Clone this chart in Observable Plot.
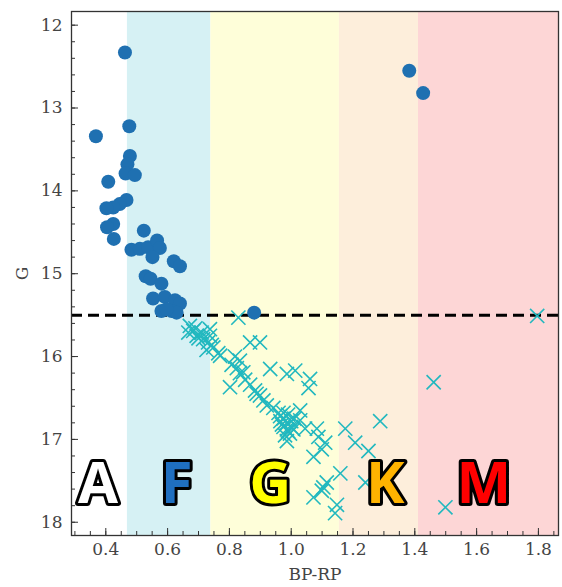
<!DOCTYPE html>
<html>
<head>
<meta charset="utf-8">
<script src="https://cdn.jsdelivr.net/npm/d3@7"></script>
<script src="https://cdn.jsdelivr.net/npm/@observablehq/plot@0.6"></script>
<style>
  html, body { margin: 0; padding: 0; background: #fff; }
  #chart svg { display: block; }
</style>
</head>
<body>
<div id="chart"></div>
<script>
// Spectral-class bands (BP-RP colour boundaries)
const bandNames  = ["F", "G", "K", "M"];
const bandStart  = [0.47, 0.74, 1.156, 1.412];
const bandEnd    = [0.74, 1.156, 1.412, 1.865];
const bandColors = ["#d6f1f4", "#fefed9", "#fdeedb", "#fdd6d6"];

// Class labels
const classNames  = ["A", "F", "G", "K", "M"];
const classX      = [0.375, 0.629, 0.932, 1.304, 1.623];
const classColors = ["#ffffff", "#1f6fc0", "#ffff00", "#ffb300", "#ff0000"];
const classG      = 17.77;

// Magnitude cut
const gCut = 15.5;

// Bright stars (circles)
const circleBPRP = [0.462, 1.382, 1.427, 0.476, 0.368, 0.478, 0.470, 0.464, 0.494, 0.408,
  0.467, 0.445, 0.424, 0.402, 0.424, 0.404, 0.426, 0.523, 0.483, 0.510,
  0.537, 0.566, 0.575, 0.551, 0.620, 0.640, 0.529, 0.545, 0.580, 0.553,
  0.591, 0.624, 0.640, 0.580, 0.613, 0.629, 0.597, 0.880];
const circleG = [12.33, 12.55, 12.82, 13.22, 13.34, 13.58, 13.68, 13.79, 13.81, 13.89,
  14.11, 14.16, 14.20, 14.21, 14.40, 14.44, 14.58, 14.48, 14.71, 14.70,
  14.68, 14.60, 14.69, 14.80, 14.85, 14.91, 15.03, 15.06, 15.12, 15.30,
  15.28, 15.32, 15.36, 15.45, 15.45, 15.47, 15.43, 15.47];

// Faint stars (crosses)
const crossBPRP = [0.829, 1.796, 0.672, 0.667, 0.683, 0.694, 0.710, 0.737, 0.715, 0.731,
  0.726, 0.748, 0.737, 0.764, 0.770, 0.743, 0.867, 0.899, 0.818, 0.834,
  0.807, 0.824, 0.845, 0.834, 0.802, 0.851, 0.867, 0.883, 0.899, 0.932,
  0.986, 1.013, 1.061, 1.056, 0.910, 0.921, 0.942, 0.959, 0.964, 0.975,
  0.986, 0.975, 0.986, 0.996, 0.980, 0.986, 0.990, 1.000, 0.970, 1.000,
  1.010, 1.029, 1.029, 1.007, 1.045, 1.083, 1.088, 1.110, 1.099, 1.072,
  1.175, 1.207, 1.250, 1.288, 1.461, 1.159, 1.115, 1.104, 1.099, 1.072,
  1.148, 1.142, 1.240, 1.499, 0.965, 0.990, 0.975, 0.690, 0.700, 0.888];
const crossG = [15.53, 15.51, 15.63, 15.71, 15.69, 15.75, 15.71, 15.67, 15.79, 15.83,
  15.92, 15.89, 15.75, 15.96, 15.99, 15.86, 15.83, 15.83, 16.00, 16.05,
  16.10, 16.14, 16.19, 16.20, 16.37, 16.28, 16.34, 16.41, 16.47, 16.15,
  16.21, 16.17, 16.27, 16.38, 16.53, 16.59, 16.62, 16.68, 16.72, 16.75,
  16.80, 16.85, 16.88, 16.93, 16.95, 17.02, 16.70, 16.78, 16.82, 16.85,
  16.75, 16.65, 16.77, 16.88, 16.87, 16.87, 16.97, 17.04, 17.12, 17.21,
  16.87, 17.04, 17.14, 16.78, 16.31, 17.41, 17.52, 17.58, 17.62, 17.70,
  17.79, 17.89, 17.52, 17.82, 16.78, 16.90, 16.68, 15.66, 15.78, 16.45];

// Axis ticks
const xTicks = [0.4, 0.6, 0.8, 1.0, 1.2, 1.4, 1.6, 1.8];
const yTicks = [12, 13, 14, 15, 16, 17, 18];
const xMinor = d3.range(0.3, 1.86, 0.05).map(v => +v.toFixed(2));
const yMinor = d3.range(12, 18.01, 0.2).map(v => +v.toFixed(1));

const bands = bandNames.map((n, i) => ({name: n, x1: bandStart[i], x2: bandEnd[i], fill: bandColors[i]}));
const classes = classNames.map((n, i) => ({name: n, x: classX[i], g: classG, fill: classColors[i]}));
const circles = circleBPRP.map((x, i) => ({x, g: circleG[i]}));
const crosses = crossBPRP.map((x, i) => ({x, g: crossG[i]}));

const axisFont = "DejaVu Serif, serif";

const chart = Plot.plot({
  width: 562,
  height: 587,
  marginLeft: 71,
  marginRight: 4,
  marginTop: 11,
  marginBottom: 52,
  style: {background: "#fff", fontFamily: axisFont, fontSize: "17px", color: "#444"},
  x: {domain: [0.289, 1.865]},
  y: {domain: [11.835, 18.16], reverse: true},
  marks: [
    Plot.rect(bands, {x1: "x1", x2: "x2", fill: "fill"}),
    Plot.ruleY([gCut], {stroke: "#000", strokeWidth: 3, strokeDasharray: "11,6"}),
    Plot.dot(crosses, {x: "x", y: "g", symbol: "times", r: 6.5, stroke: "#22b8bf", strokeWidth: 1.6}),
    Plot.dot(circles, {x: "x", y: "g", r: 7, fill: "#1f70b1", stroke: "none"}),
    Plot.text(classes, {x: "x", y: "g", text: "name", fill: "fill", stroke: "#000", strokeWidth: 6,
      strokeLinejoin: "round", paintOrder: "stroke", fontSize: 58, fontWeight: 700,
      fontFamily: "Open Sans, sans-serif", lineAnchor: "bottom"}),
    // inward ticks
    Plot.axisX(xTicks, {tickSize: -7, text: null, label: null, stroke: "#333"}),
    Plot.axisX(xMinor, {tickSize: -4, text: null, label: null, stroke: "#333"}),
    Plot.axisY(yTicks, {tickSize: -7, text: null, label: null, stroke: "#333"}),
    Plot.axisY(yMinor, {tickSize: -4, text: null, label: null, stroke: "#333"}),
    // labels
    Plot.axisX(xTicks, {tickSize: 0, tickPadding: 7, tickFormat: d3.format(".1f"), label: "BP-RP",
      labelAnchor: "center", labelArrow: "none", labelOffset: 44, fontSize: 17}),
    Plot.axisY(yTicks, {tickSize: 0, tickPadding: 9, tickFormat: d => d, label: "G",
      labelAnchor: "center", labelArrow: "none", labelOffset: 56, fontSize: 17}),
    Plot.frame({stroke: "#333", strokeWidth: 1.3})
  ]
});
document.getElementById("chart").appendChild(chart);
</script>
</body>
</html>
